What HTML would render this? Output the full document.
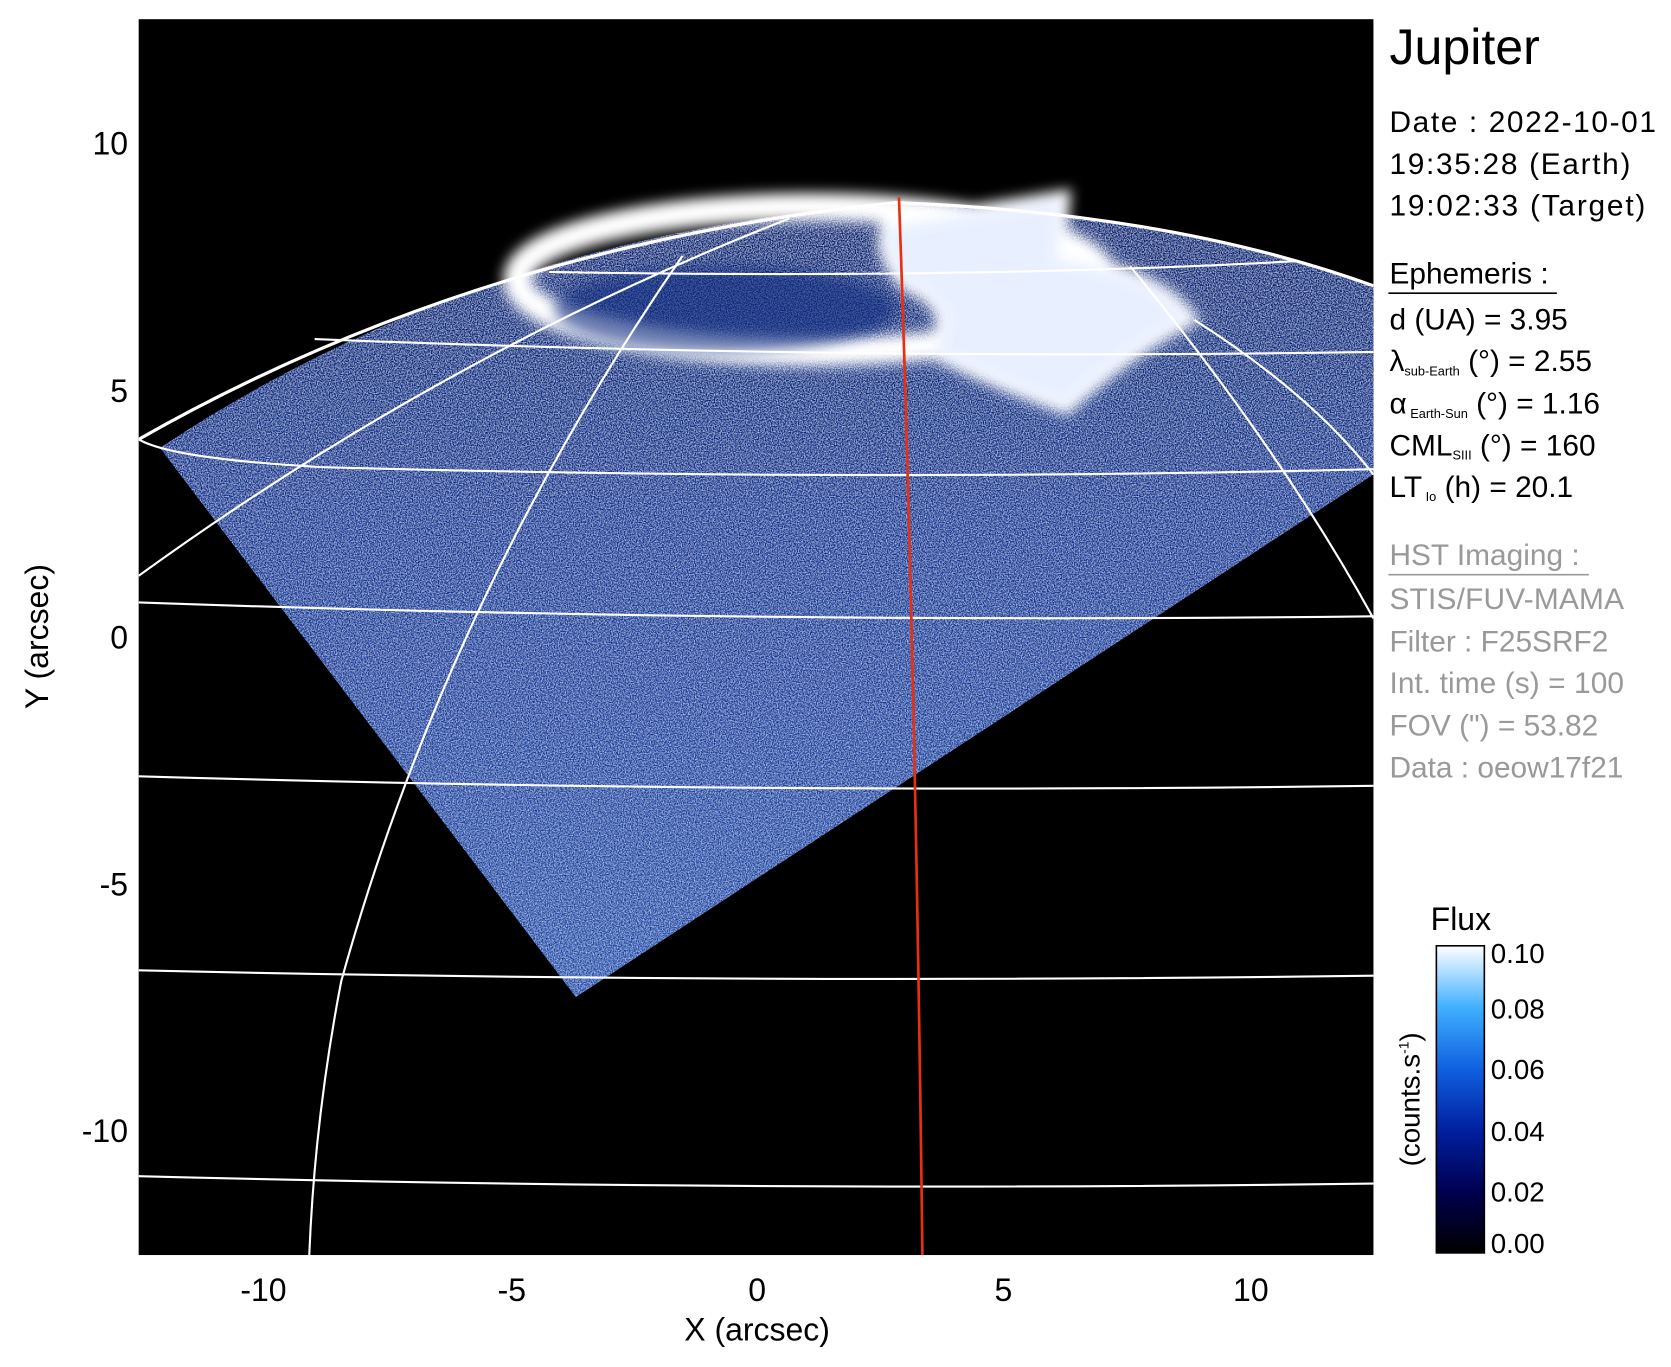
<!DOCTYPE html>
<html><head><meta charset="utf-8"><style>
html,body{margin:0;padding:0;background:#fff;}
svg{display:block;font-family:"Liberation Sans",sans-serif;}
</style></head><body>
<svg width="1671" height="1367" viewBox="0 0 1567 1282" xmlns="http://www.w3.org/2000/svg">
<defs>
<filter id="noise" x="0" y="0" width="100%" height="100%">
<feTurbulence type="fractalNoise" baseFrequency="0.9" numOctaves="1" seed="3" result="t"/>
<feColorMatrix in="t" type="matrix" values="0 0 0 0 0.6  0 0 0 0 0.75  0 0 0 0 1  0 0 0 2.2 -0.85" result="n"/>
<feComposite in="n" in2="SourceGraphic" operator="in" result="nc"/>
<feTurbulence type="fractalNoise" baseFrequency="0.8" numOctaves="1" seed="9" result="t2"/>
<feColorMatrix in="t2" type="matrix" values="0 0 0 0 0  0 0 0 0 0  0 0 0 0 0.1  0 0 0 2.2 -0.85" result="d"/>
<feComposite in="d" in2="SourceGraphic" operator="in" result="dc"/>
<feMerge><feMergeNode in="SourceGraphic"/><feMergeNode in="nc"/><feMergeNode in="dc"/></feMerge>
</filter>
<filter id="blur"><feGaussianBlur stdDeviation="6"/></filter>
<linearGradient id="cb" x1="0" y1="0" x2="0" y2="1">
<stop offset="0" stop-color="#ffffff"/><stop offset="0.2" stop-color="#40b0ff"/>
<stop offset="0.4" stop-color="#1060e0"/><stop offset="0.6" stop-color="#0020a0"/>
<stop offset="0.8" stop-color="#000050"/><stop offset="1" stop-color="#000000"/>
</linearGradient>
<linearGradient id="bg" x1="0" y1="0" x2="0" y2="1">
<stop offset="0" stop-color="#0a2278"/><stop offset="0.4" stop-color="#1440a8"/><stop offset="1" stop-color="#2a62c8"/>
</linearGradient>
<clipPath id="pc"><rect x="130" y="18" width="1158" height="1159"/></clipPath>
</defs>
<rect x="130" y="18" width="1158" height="1159" fill="#000"/>
<g clip-path="url(#pc)">
<path d="M150,420 Q450,220 840,190 Q1100,200 1288,268 L1288,445 L540,935 Z" fill="url(#bg)" filter="url(#noise)"/>
<g filter="url(#blur)" fill="none" stroke="#fff">
<ellipse cx="760" cy="262" rx="275" ry="68" stroke-width="26"/>
<path d="M830,210 Q950,190 1000,182 L995,240 Q1090,255 1120,300 Q1060,330 1000,385 Q930,360 870,330 Q900,290 850,270 Q820,240 830,210Z" fill="#e8f0ff" stroke-width="8"/>
</g>
<ellipse cx="680" cy="290" rx="160" ry="40" fill="#0c2a80" opacity="0.6" filter="url(#blur)"/>
<g fill="none" stroke="#fff" stroke-width="2">
<path d="M130,1103 Q700,1118 1288,1110"/>
<path d="M130,910 Q700,923 1288,915"/>
<path d="M130,728 Q700,745 1288,737"/>
<path d="M130,565 Q700,585 1288,578"/>
<path d="M130,412 Q160,430 300,438 Q800,452 1288,440"/>
<path d="M295,318 Q800,338 1288,330"/>
<path d="M515,255 Q900,262 1215,245"/>
<path d="M130,412 Q450,230 840,190 Q1100,200 1288,268" stroke-width="3"/>
<path d="M740,205 Q420,330 130,540"/>
<path d="M640,240 Q420,560 320,920 Q295,1050 290,1177"/>
<path d="M1060,250 Q1200,420 1288,580"/>
<path d="M1120,300 Q1230,370 1288,445"/>
</g>
<path d="M843,185 Q858,600 865,1177" fill="none" stroke="#e83010" stroke-width="2.5"/>
</g>
<g font-size="30" text-anchor="middle" fill="#000">
<text x="247" y="1220">-10</text><text x="480" y="1220">-5</text><text x="710" y="1220">0</text>
<text x="941" y="1220">5</text><text x="1173" y="1220">10</text>
<text x="710" y="1257">X (arcsec)</text>
</g>
<g font-size="30" text-anchor="end" fill="#000">
<text x="120" y="145">10</text><text x="120" y="377">5</text><text x="120" y="608">0</text>
<text x="120" y="840">-5</text><text x="120" y="1071">-10</text>
</g>
<text transform="translate(45,597) rotate(-90)" font-size="30" text-anchor="middle">Y (arcsec)</text>
<g font-size="28" fill="#000" xml:space="preserve">
<text x="1303" y="60" font-size="47">Jupiter</text>
<text x="1303" y="124" textLength="250">Date : 2022-10-01</text>
<text x="1303" y="163" textLength="226">19:35:28 (Earth)</text>
<text x="1303" y="202" textLength="240">19:02:33 (Target)</text>
<text x="1303" y="266">Ephemeris :</text>
<line x1="1302" y1="275" x2="1460" y2="275" stroke="#000" stroke-width="1.5"/>
<text x="1303" y="309">d (UA)    = 3.95</text>
<text x="1303" y="348">λ<tspan font-size="12" dy="4">sub-Earth</tspan><tspan dy="-4"> (°) = 2.55</tspan></text>
<text x="1303" y="388">α<tspan font-size="12" dy="4"> Earth-Sun</tspan><tspan dy="-4"> (°) = 1.16</tspan></text>
<text x="1303" y="427">CML<tspan font-size="12" dy="4">SIII</tspan><tspan dy="-4"> (°) = 160</tspan></text>
<text x="1303" y="466">LT<tspan font-size="12" dy="4"> Io</tspan><tspan dy="-4"> (h) = 20.1</tspan></text>
</g>
<g font-size="28" fill="#999">
<text x="1303" y="530">HST Imaging :</text>
<line x1="1302" y1="539" x2="1490" y2="539" stroke="#999" stroke-width="1.5"/>
<text x="1303" y="571" textLength="220">STIS/FUV-MAMA</text>
<text x="1303" y="611">Filter : F25SRF2</text>
<text x="1303" y="650" textLength="220">Int. time (s) = 100</text>
<text x="1303" y="690">FOV (") = 53.82</text>
<text x="1303" y="729">Data : oeow17f21</text>
</g>
<rect x="1347" y="887" width="45" height="288" fill="url(#cb)" stroke="#000" stroke-width="1.5"/>
<text x="1370" y="872" font-size="30" text-anchor="middle">Flux</text>
<g font-size="26">
<text x="1398" y="903">0.10</text><text x="1398" y="955">0.08</text><text x="1398" y="1012">0.06</text>
<text x="1398" y="1070">0.04</text><text x="1398" y="1127">0.02</text><text x="1398" y="1175">0.00</text>
</g>
<text transform="translate(1331,1031) rotate(-90)" font-size="26" text-anchor="middle">(counts.s<tspan font-size="13" dy="-10">-1</tspan><tspan dy="10">)</tspan></text>
</svg>
</body></html>
